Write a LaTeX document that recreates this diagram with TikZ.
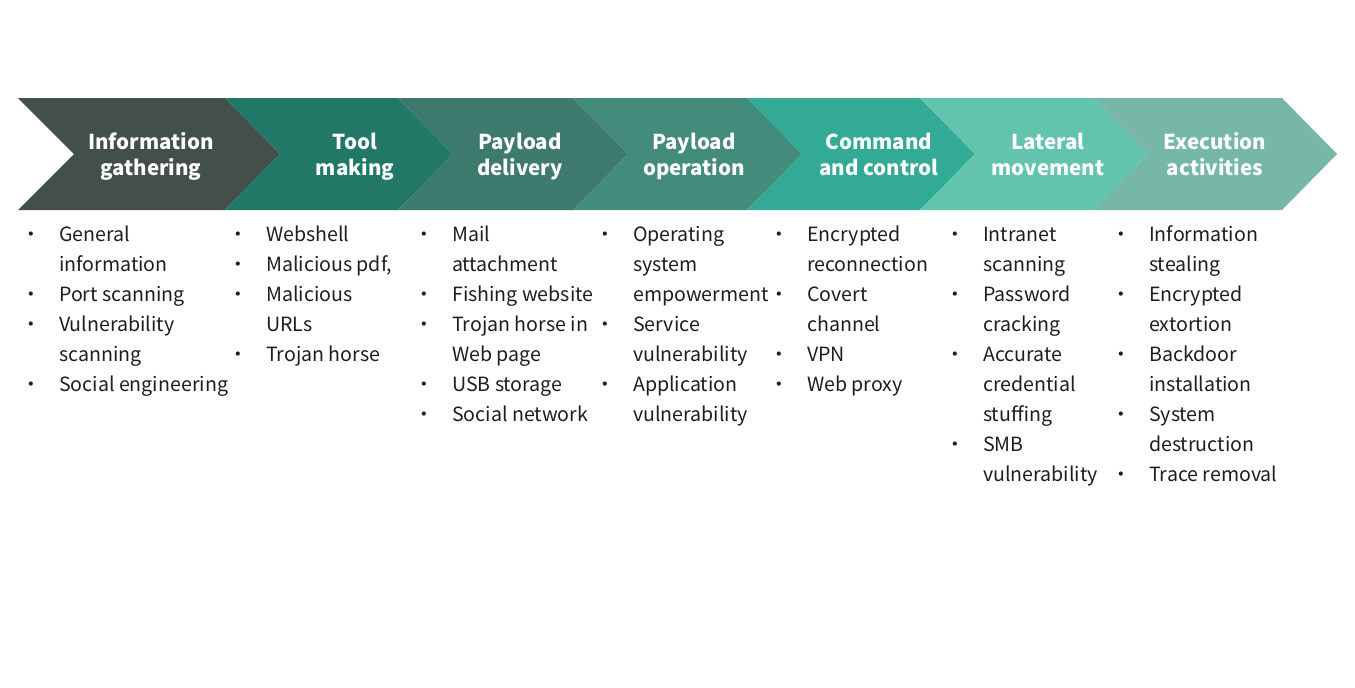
\documentclass[tikz,border=0pt]{standalone}
\usepackage{fontspec}
\setmainfont{Noto Sans CJK SC}
\usepackage{array}
\definecolor{cA}{HTML}{434F4B}
\definecolor{cB}{HTML}{227867}
\definecolor{cC}{HTML}{3D7A6D}
\definecolor{cD}{HTML}{438B7B}
\definecolor{cE}{HTML}{32AA95}
\definecolor{cF}{HTML}{63C4AD}
\definecolor{cG}{HTML}{77B7A7}
\definecolor{txt}{HTML}{1E1E1E}
\newcommand\bu{\makebox[56pt]{•}&}
\newcommand\nb{&}
\tikzset{
  title/.style={text=white, font=\fontsize{20.5}{26}\selectfont\bfseries, inner sep=0pt, anchor=base},
  listbox/.style={text=txt, font=\fontsize{19.6}{30}\selectfont, inner sep=0pt, anchor=base west},
}
\begin{document}
\begin{tikzpicture}[x=1pt,y=-1pt]
\useasboundingbox (0,0) rectangle (1355,688);
\fill[white] (0,0) rectangle (1355,688);
% chevrons
\fill[cA] (18,98) -- (225,98) -- (280,154) -- (225,210) -- (18,210) -- (74,154) -- cycle;
\fill[cB] (225,98) -- (398,98) -- (453,154) -- (398,210) -- (225,210) -- (280,154) -- cycle;
\fill[cC] (398,98) -- (573,98) -- (628,154) -- (573,210) -- (398,210) -- (453,154) -- cycle;
\fill[cD] (573,98) -- (747,98) -- (802,154) -- (747,210) -- (573,210) -- (628,154) -- cycle;
\fill[cE] (747,98) -- (920,98) -- (975,154) -- (920,210) -- (747,210) -- (802,154) -- cycle;
\fill[cF] (920,98) -- (1093,98) -- (1148,154) -- (1093,210) -- (920,210) -- (975,154) -- cycle;
\fill[cG] (1093,98) -- (1282,98) -- (1337,154) -- (1282,210) -- (1093,210) -- (1148,154) -- cycle;
% titles
\node[title] (t1) at (151,149) {\begin{tabular}[t]{@{}c@{}}Information\\gathering\end{tabular}};
\node[title] (t2) at (355,149) {\begin{tabular}[t]{@{}c@{}}Tool\\making\end{tabular}};
\node[title] (t3) at (520,149) {\begin{tabular}[t]{@{}c@{}}Payload\\delivery\end{tabular}};
\node[title] (t4) at (694,149) {\begin{tabular}[t]{@{}c@{}}Payload\\operation\end{tabular}};
\node[title] (t5) at (879,149) {\begin{tabular}[t]{@{}c@{}}Command\\and control\end{tabular}};
\node[title] (t6) at (1048,149) {\begin{tabular}[t]{@{}c@{}}Lateral\\movement\end{tabular}};
\node[title] (t7) at (1215,149) {\begin{tabular}[t]{@{}c@{}}Execution\\activities\end{tabular}};
% lists
\node[listbox] (l1) at (3,241) {\begin{tabular}[t]{@{}c@{}l@{}}
\bu General\\ \nb information\\ \bu Port scanning\\ \bu Vulnerability\\ \nb scanning\\ \bu Social engineering
\end{tabular}};
\node[listbox] (l2) at (210,241) {\begin{tabular}[t]{@{}c@{}l@{}}
\bu Webshell\\ \bu Malicious pdf,\\ \bu Malicious\\ \nb URLs\\ \bu Trojan horse
\end{tabular}};
\node[listbox] (l3) at (396,241) {\begin{tabular}[t]{@{}c@{}l@{}}
\bu Mail\\ \nb attachment\\ \bu Fishing website\\ \bu Trojan horse in\\ \nb Web page\\ \bu USB storage\\ \bu Social network
\end{tabular}};
\node[listbox] (l4) at (577,241) {\begin{tabular}[t]{@{}c@{}l@{}}
\bu Operating\\ \nb system\\ \nb empowerment\\ \bu Service\\ \nb vulnerability\\ \bu Application\\ \nb vulnerability
\end{tabular}};
\node[listbox] (l5) at (751,241) {\begin{tabular}[t]{@{}c@{}l@{}}
\bu Encrypted\\ \nb reconnection\\ \bu Covert\\ \nb channel\\ \bu VPN\\ \bu Web proxy
\end{tabular}};
\node[listbox] (l6) at (927,241) {\begin{tabular}[t]{@{}c@{}l@{}}
\bu Intranet\\ \nb scanning\\ \bu Password\\ \nb cracking\\ \bu Accurate\\ \nb credential\\ \nb stuffing\\ \bu SMB\\ \nb vulnerability
\end{tabular}};
\node[listbox] (l7) at (1093,241) {\begin{tabular}[t]{@{}c@{}l@{}}
\bu Information\\ \nb stealing\\ \bu Encrypted\\ \nb extortion\\ \bu Backdoor\\ \nb installation\\ \bu System\\ \nb destruction\\ \bu Trace removal
\end{tabular}};
\end{tikzpicture}
\end{document}
